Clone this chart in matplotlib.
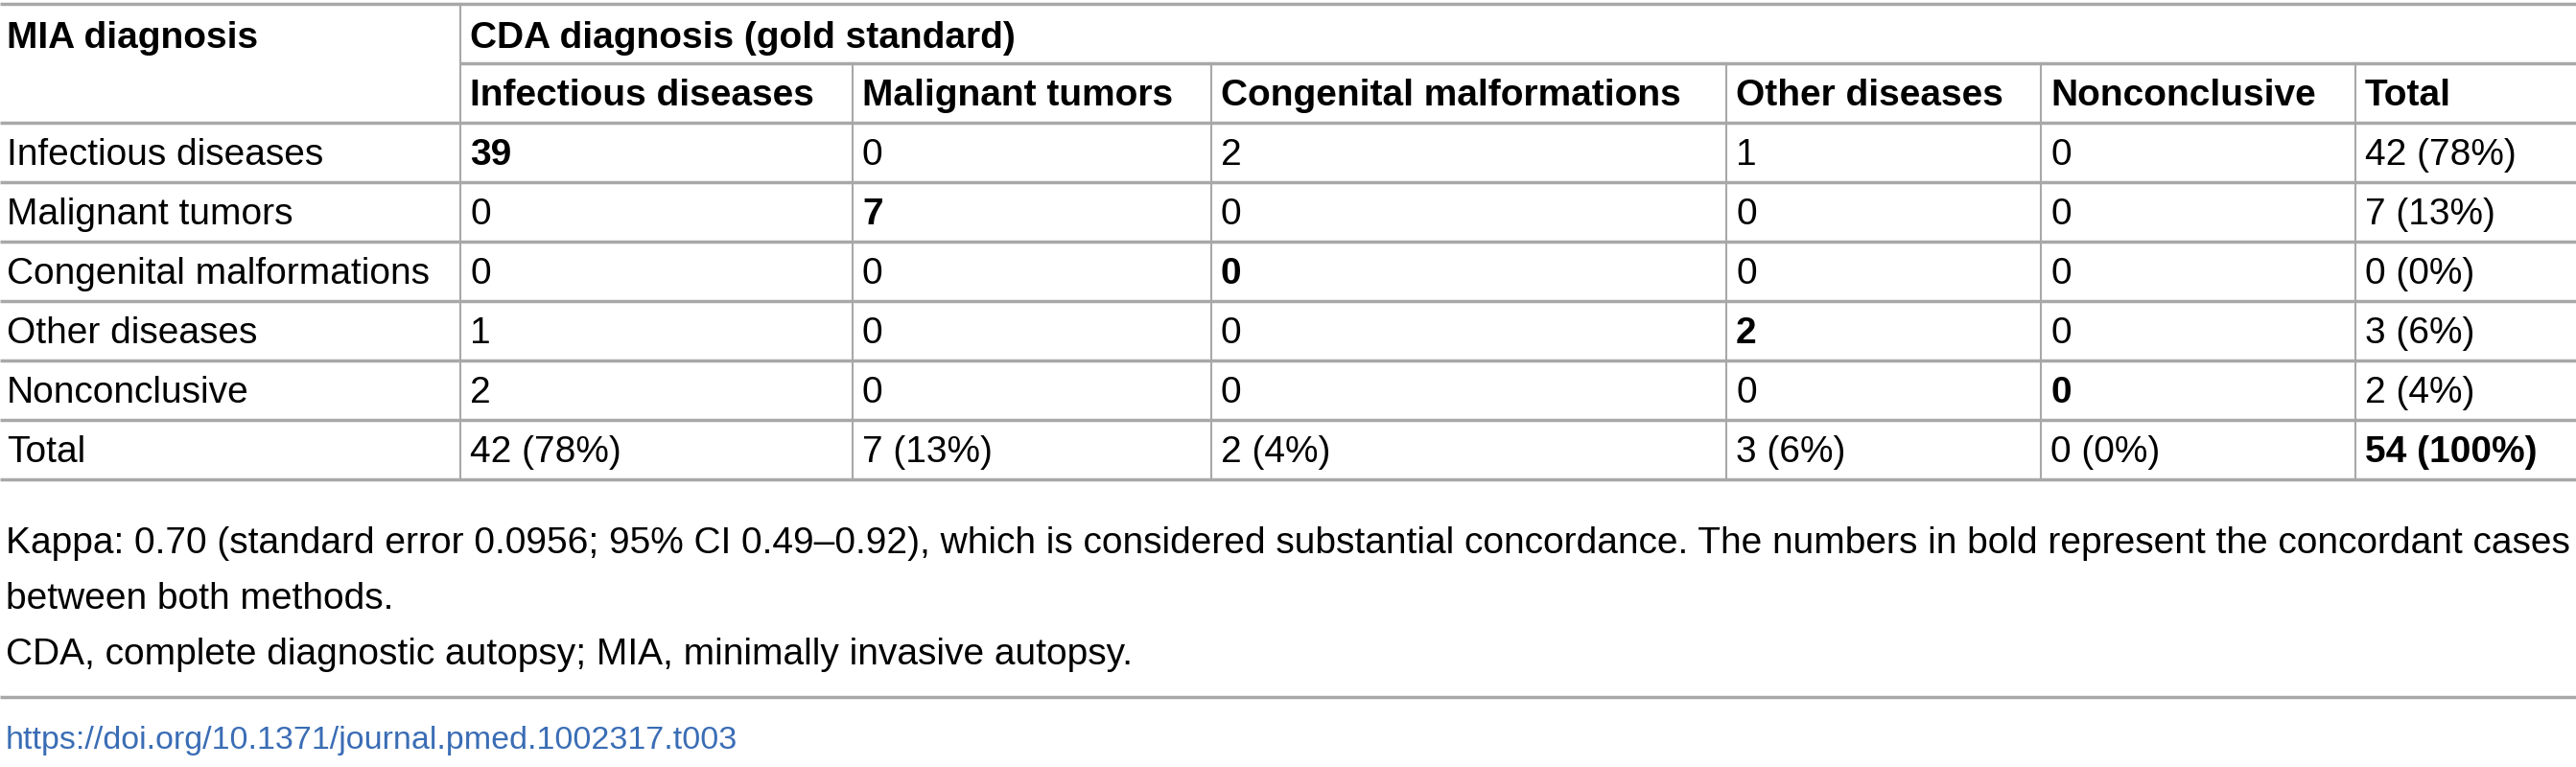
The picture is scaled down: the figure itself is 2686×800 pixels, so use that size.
import matplotlib
matplotlib.use('Agg')
from matplotlib import pyplot as plt

plt.rcParams['font.family'] = ['Liberation Sans', 'DejaVu Sans']

#  -- datos de la tabla --
row_labels = ['Infectious diseases', 'Malignant tumors', 'Congenital malformations',
              'Other diseases', 'Nonconclusive', 'Total']
col_labels = ['Infectious diseases', 'Malignant tumors', 'Congenital malformations',
              'Other diseases', 'Nonconclusive', 'Total']
cells = [['39', '0', '2', '1', '0', '42 (78%)'],
         ['0', '7', '0', '0', '0', '7 (13%)'],
         ['0', '0', '0', '0', '0', '0 (0%)'],
         ['1', '0', '0', '2', '0', '3 (6%)'],
         ['2', '0', '0', '0', '0', '2 (4%)'],
         ['42 (78%)', '7 (13%)', '2 (4%)', '3 (6%)', '0 (0%)', '54 (100%)']]
bold_cells = [(0, 0), (1, 1), (2, 2), (3, 3), (4, 4), (5, 5)]
notes = ['Kappa: 0.70 (standard error 0.0956; 95% CI 0.49\u20130.92), which is considered substantial concordance. The numbers in bold represent the concordant cases',
         'between both methods.',
         'CDA, complete diagnostic autopsy; MIA, minimally invasive autopsy.']
doi = 'https://doi.org/10.1371/journal.pmed.1002317.t003'

W, H = 2686, 800
fig = plt.figure(figsize=(W / 100, H / 100), dpi=100)
ax = fig.add_axes([0, 0, 1, 1])
ax.set_xlim(0, W)
ax.set_ylim(H, 0)
ax.axis('off')

col_x = [0, 480, 889, 1263, 1800, 2128, 2456, W]  # bordes de columnas
y_top, y_cda, y_head = 4, 66, 128
row_h = 62
fs = 28
lc = '#a8a8a8'
pad = 10

def hline(y, x0=0, x1=W):
    ax.plot([x0, x1], [y, y], color=lc, lw=2.5, solid_capstyle='butt')

def vline(x, y0, y1):
    ax.plot([x, x], [y0, y1], color=lc, lw=1.5)

#  lineas
hline(y_top)
hline(y_cda, col_x[1], W)
hline(y_head)
n = len(row_labels)
for i in range(n):
    hline(y_head + (i + 1) * row_h)
vline(col_x[1], y_top, y_head + n * row_h)
for x in col_x[2:-1]:
    vline(x, y_cda, y_head + n * row_h)

#  encabezados
ax.text(pad - 3, 40, 'MIA diagnosis', fontsize=fs, fontweight='bold', va='center')
ax.text(col_x[1] + pad, 40, 'CDA diagnosis (gold standard)', fontsize=fs, fontweight='bold', va='center')
for j, c in enumerate(col_labels):
    ax.text(col_x[j + 1] + pad, 100, c, fontsize=fs, fontweight='bold', va='center')

#  cuerpo
for i, r in enumerate(row_labels):
    yc = y_head + i * row_h + row_h / 2 + 3
    ax.text(pad - 3, yc, r, fontsize=fs, va='center')
    for j, v in enumerate(cells[i]):
        w = 'bold' if (i, j) in bold_cells else 'normal'
        ax.text(col_x[j + 1] + pad, yc, v, fontsize=fs, fontweight=w, va='center')

#  notas
for k, t in enumerate(notes):
    ax.text(6, 567 + k * 58, t, fontsize=fs, va='center')
hline(727)
ax.text(6, 773, doi, fontsize=24.5, color='#3a6db5', va='center')

fig.savefig('out.png', dpi=100)
